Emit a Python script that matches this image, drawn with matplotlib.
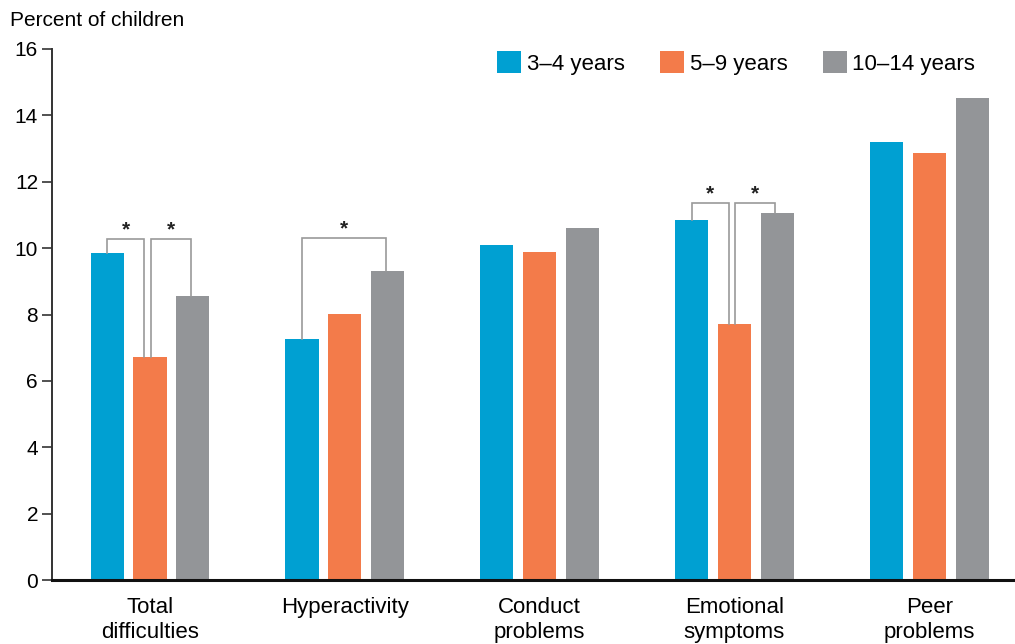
import matplotlib.pyplot as plt
import numpy as np

plt.rcParams['font.family'] = ['Liberation Sans', 'DejaVu Sans']

categories = ['Total\ndifficulties', 'Hyperactivity', 'Conduct\nproblems', 'Emotional\nsymptoms', 'Peer\nproblems']
series = ['3–4 years', '5–9 years', '10–14 years']
age_3_4 = [9.85, 7.26, 10.08, 10.85, 13.2]
age_5_9 = [6.73, 8.01, 9.87, 7.71, 12.88]
age_10_14 = [8.56, 9.32, 10.6, 11.06, 14.52]
colors = ['#00A0D2', '#F37B4A', '#939598']

# significance brackets: (group, series a, series b, bracket height)
sig_pairs = [(0, 0, 1, 10.27), (0, 1, 2, 10.27), (1, 0, 2, 10.3), (3, 0, 1, 11.36), (3, 1, 2, 11.36)]

fig = plt.figure(figsize=(10.15, 6.44), dpi=100)
ax = fig.add_axes([52/1015, 1-580/644, 1-52/1015, 531/644])

x = np.arange(len(categories))
offsets = [-0.22, 0, 0.22]
width = 0.17
values = [age_3_4, age_5_9, age_10_14]
for i, vals in enumerate(values):
    ax.bar(x + offsets[i], vals, width, color=colors[i], label=series[i])

for g, a, b, h in sig_pairs:
    xa = g + offsets[a] + (0.005 if a == 1 else 0)
    xb = g + offsets[b] - (0.03 if b == 1 else 0.01)
    ya = values[a][g]
    yb = values[b][g]
    ax.plot([xa, xa, xb, xb], [ya, h, h, yb], color='#9a9a9a', lw=1.2, solid_joinstyle='miter')
    ax.text((xa + xb) / 2, h + 0.27, '*', ha='center', va='center', fontsize=15,
            fontweight='bold', color='#222222')

ax.set_xlim(-0.503, 4.44)
ax.set_ylim(0, 16)
ax.set_yticks(range(0, 17, 2))
ax.set_xticks(x)
ax.set_xticklabels(categories, fontsize=16, linespacing=1.25)
ax.tick_params(axis='x', length=0, pad=12)
ax.tick_params(axis='y', labelsize=15, length=7, width=1.2, pad=3, color='#333333')
for s in ['top', 'right']:
    ax.spines[s].set_visible(False)
ax.spines['left'].set_linewidth(1.4)
ax.spines['left'].set_color('#333333')
ax.spines['bottom'].set_linewidth(2.2)
ax.spines['bottom'].set_color('#111111')

fig.text(10/1015, 1-20/644, 'Percent of children', fontsize=15, ha='left', va='center')

ax.legend(loc='center left', bbox_to_anchor=(497/1015, 1-63/644), bbox_transform=fig.transFigure,
          ncol=3, frameon=False, fontsize=16, handlelength=1.08, handleheight=1.08,
          handletextpad=0.25, columnspacing=1.6, borderpad=0, borderaxespad=0)

plt.savefig('out.png', dpi=100)
